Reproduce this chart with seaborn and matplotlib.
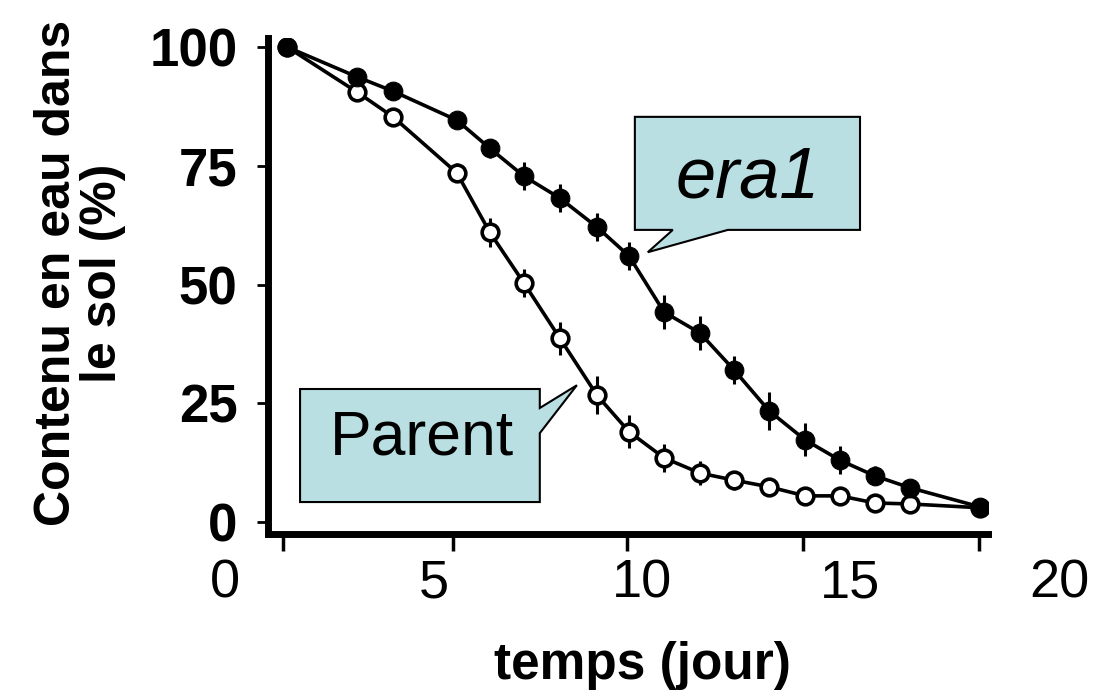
import matplotlib
matplotlib.use("Agg")
import matplotlib.pyplot as plt
from matplotlib.patches import Polygon
import seaborn as sns
import pandas as pd

# Time points (days) and soil water content (%)
days = [1.49, 3.17, 4.03, 5.56, 6.35, 7.17, 8.03, 8.92, 9.69, 10.53,
        11.39, 12.21, 13.05, 13.91, 14.75, 15.59, 16.43, 18.10]
era1 = [100.0, 93.7, 90.7, 84.6, 78.7, 72.8, 68.2, 62.1, 56.0, 44.2,
        39.8, 32.0, 23.4, 17.3, 13.0, 9.7, 7.2, 3.2]
era1_err = [0.5, 1.0, 1.5, 1.5, 2.0, 3.0, 3.0, 3.0, 3.0, 3.5,
            3.5, 3.0, 4.0, 3.5, 3.0, 2.0, 1.5, 1.5]
parent = [100.0, 90.5, 85.3, 73.5, 61.0, 50.3, 38.7, 26.7, 19.0, 13.5,
          10.3, 8.8, 7.4, 5.5, 5.5, 4.0, 3.8, 3.0]
parent_err = [0.5, 1.0, 1.5, 2.0, 3.0, 3.0, 3.5, 4.0, 3.5, 3.0,
              2.5, 2.0, 1.5, 1.0, 1.0, 1.0, 1.0, 1.0]

x_labels = [0, 5, 10, 15, 20]
x_marks = [1.39, 5.47, 9.64, 13.86, 18.08]
y_ticks = [0, 25, 50, 75, 100]

df = pd.DataFrame({"jour": days, "era1": era1, "Parent": parent})

sns.set_style("ticks")
plt.rcParams["font.family"] = ["Liberation Sans", "DejaVu Sans"]
plt.rcParams["text.color"] = "black"
plt.rcParams["axes.labelcolor"] = "black"
plt.rcParams["xtick.color"] = "black"
plt.rcParams["ytick.color"] = "black"

fig = plt.figure(figsize=(10.95, 6.91), dpi=100)
ax = fig.add_axes([0.2447, 0.2272, 0.6576, 0.7178])

# error bars first so the markers sit on top
ax.errorbar(days, parent, yerr=parent_err, fmt="none", ecolor="black",
            elinewidth=2.2, capsize=0, zorder=2)
ax.errorbar(days, era1, yerr=era1_err, fmt="none", ecolor="black",
            elinewidth=2.2, capsize=0, zorder=2)

sns.lineplot(data=df, x="jour", y="Parent", ax=ax, color="black", lw=2.6,
             marker="o", markersize=12, markerfacecolor="white",
             markeredgecolor="black", markeredgewidth=2.6,
             estimator=None, sort=False, zorder=3)
sns.lineplot(data=df, x="jour", y="era1", ax=ax, color="black", lw=2.6,
             marker="o", markersize=13.5, markerfacecolor="black",
             markeredgecolor="black", estimator=None, sort=False, zorder=4)

ax.set_xlim(1.03, 18.30)
ax.set_ylim(-2.53, 101.9)

for side in ["top", "right"]:
    ax.spines[side].set_visible(False)
for side in ["left", "bottom"]:
    ax.spines[side].set_linewidth(5)
    ax.spines[side].set_color("black")

ax.set_yticks(y_ticks)
ax.set_yticklabels([str(v) for v in y_ticks], fontsize=38, fontweight="bold")
ax.tick_params(axis="y", length=8, width=2, pad=14, color="black")

ax.set_xticks(x_marks)
ax.set_xticklabels([])
ax.tick_params(axis="x", length=12, width=2.5, direction="out", color="black")

# x tick labels sit on their own scale below the axis
for v in x_labels:
    ax.text(v, -0.0988, str(v), transform=ax.get_xaxis_transform(),
            ha="center", va="center", fontsize=39, clip_on=False)

ax.set_xlabel("")
ax.set_ylabel("")
fig.text(0.587, 0.037, "temps (jour)", ha="center", va="center",
         fontsize=37, fontweight="bold")
fig.text(0.073, 0.605, "Contenu en eau dans\nle sol (%)", ha="center",
         va="center", rotation=90, fontsize=36, fontweight="bold",
         linespacing=1.0)

# speech-bubble callouts
box_color = "#b9dfe3"
era1_bubble = [(9.83, 85.3), (15.23, 85.3), (15.23, 61.5), (12.06, 61.5),
               (10.14, 56.8), (10.74, 61.5), (9.83, 61.5)]
parent_bubble = [(1.80, 28.0), (7.55, 28.0), (7.55, 24.0), (8.44, 28.8),
                 (7.55, 18.7), (7.55, 4.2), (1.80, 4.2)]
for pts in [era1_bubble, parent_bubble]:
    ax.add_patch(Polygon(pts, closed=True, facecolor=box_color,
                         edgecolor="black", lw=1.5, zorder=5))
ax.text(12.54, 72.4, "era1", fontsize=52, style="italic", ha="center",
        va="center", zorder=6)
ax.text(4.72, 17.7, "Parent", fontsize=45, ha="center", va="center",
        zorder=6)

plt.savefig("out.png", dpi=100)
